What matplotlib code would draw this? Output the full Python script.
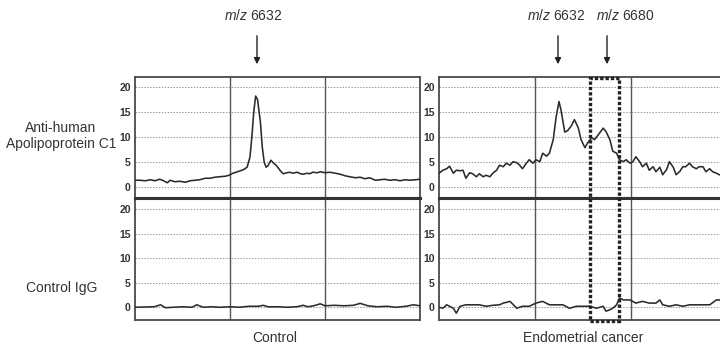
import matplotlib
matplotlib.use("Agg")
import matplotlib.pyplot as plt
from matplotlib.patches import Rectangle

plt.rcParams['font.family'] = ['Liberation Sans', 'DejaVu Sans']
plt.rcParams['mathtext.fontset'] = 'custom'
plt.rcParams['mathtext.it'] = 'Liberation Sans:italic'
plt.rcParams['mathtext.rm'] = 'Liberation Sans'

# ---------------- data ----------------
yticks = [0, 5, 10, 15, 20]
ytick_labels = ["0", "5", "10", "15", "20"]
row_labels = ["Anti-human\nApolipoprotein C1", "Control IgG"]
col_labels = ["Control", "Endometrial cancer"]
peak_labels_left = ["6632"]
peak_labels_right = ["6632", "6680"]

# Control serum, anti-human Apolipoprotein C1
mz_ctrl_apo = [6500, 6505, 6511, 6516, 6521, 6526, 6529, 6534, 6537, 6542, 6547, 6553,
               6558, 6563, 6568, 6574, 6579, 6584, 6589, 6595, 6599, 6603, 6608, 6614,
               6618, 6621, 6623, 6625, 6627, 6629, 6632, 6634, 6636, 6638, 6640, 6643,
               6646, 6649, 6653, 6656, 6660, 6663, 6666, 6671, 6674, 6677, 6681, 6684,
               6687, 6692, 6695, 6700, 6705, 6711, 6716, 6721, 6726, 6732, 6737, 6742,
               6747, 6753, 6758, 6763, 6768, 6774, 6779, 6784, 6789, 6795, 6800]
int_ctrl_apo = [1.4, 1.4, 1.3, 1.5, 1.3, 1.6, 1.4, 0.9, 1.4, 1.1, 1.2, 1.0,
                1.3, 1.4, 1.5, 1.8, 1.8, 2.0, 2.1, 2.2, 2.4, 2.8, 3.1, 3.5,
                4.0, 6.0, 10.0, 15.0, 18.2, 17.5, 13.0, 8.0, 5.0, 4.0, 4.3, 5.4,
                4.8, 4.3, 3.3, 2.7, 2.9, 3.0, 2.8, 3.0, 2.7, 2.6, 2.8, 2.7,
                3.0, 2.9, 3.1, 2.9, 3.0, 2.8, 2.6, 2.3, 2.1, 1.9, 2.0, 1.7,
                1.9, 1.4, 1.5, 1.6, 1.4, 1.5, 1.3, 1.5, 1.4, 1.5, 1.6]

# Endometrial cancer serum, anti-human Apolipoprotein C1
mz_canc_apo = [6500, 6504, 6508, 6511, 6515, 6518, 6522, 6525, 6528, 6532, 6535, 6539,
               6542, 6546, 6549, 6553, 6556, 6560, 6563, 6567, 6570, 6574, 6577, 6581,
               6584, 6587, 6591, 6594, 6598, 6601, 6605, 6608, 6612, 6615, 6619, 6622,
               6625, 6627, 6631, 6634, 6638, 6641, 6645, 6648, 6652, 6655, 6659, 6662,
               6666, 6671, 6674, 6678, 6681, 6685, 6688, 6692, 6695, 6699, 6702, 6705,
               6709, 6712, 6716, 6719, 6723, 6726, 6730, 6733, 6737, 6740, 6744, 6747,
               6751, 6754, 6757, 6761, 6764, 6768, 6771, 6775, 6778, 6782, 6785, 6789,
               6792, 6800]
int_canc_apo = [2.8, 3.4, 3.7, 4.2, 2.8, 3.4, 3.3, 3.4, 1.8, 2.9, 2.7, 2.1,
                2.7, 2.1, 2.4, 2.1, 2.8, 3.4, 4.4, 4.1, 4.8, 4.4, 5.1, 4.9,
                4.4, 3.7, 4.8, 5.5, 4.8, 5.5, 5.1, 6.8, 6.2, 6.8, 9.5, 14.0,
                17.1, 15.5, 11.0, 11.3, 12.3, 13.5, 11.9, 9.5, 7.9, 8.9, 9.9, 9.5,
                10.5, 11.8, 11.1, 9.5, 7.2, 6.8, 5.5, 5.1, 5.5, 4.8, 5.1, 6.1,
                5.1, 4.1, 4.8, 3.4, 4.1, 3.1, 4.0, 2.5, 3.5, 5.1, 4.0, 2.5,
                3.2, 4.1, 4.1, 4.8, 4.1, 3.7, 4.1, 4.1, 3.1, 3.7, 3.1, 2.8,
                2.5, 2.3]

# Control serum, control IgG
mz_ctrl_igg = [6500, 6510, 6520, 6527, 6532, 6540, 6550, 6560, 6565, 6572, 6580, 6590,
               6600, 6610, 6620, 6630, 6635, 6640, 6650, 6660, 6670, 6677, 6682, 6688,
               6695, 6700, 6710, 6720, 6730, 6737, 6745, 6755, 6765, 6775, 6785, 6793,
               6800]
int_ctrl_igg = [0.0, 0.05, 0.1, 0.5, -0.1, 0.0, 0.1, 0.0, 0.5, 0.0, 0.1, 0.0,
                0.1, 0.0, 0.2, 0.2, 0.4, 0.1, 0.1, 0.0, 0.1, 0.4, 0.1, 0.3,
                0.7, 0.3, 0.4, 0.3, 0.4, 0.8, 0.3, 0.1, 0.2, 0.0, 0.2, 0.5,
                0.3]

# Endometrial cancer serum, control IgG
mz_canc_igg = [6500, 6504, 6508, 6511, 6515, 6518, 6522, 6528, 6535, 6542, 6549, 6556,
               6563, 6567, 6574, 6581, 6587, 6594, 6601, 6608, 6615, 6622, 6629, 6636,
               6643, 6650, 6657, 6664, 6671, 6674, 6678, 6681, 6685, 6688, 6692, 6699,
               6705, 6712, 6719, 6726, 6730, 6733, 6740, 6747, 6754, 6761, 6768, 6775,
               6782, 6789, 6792, 6800]
int_canc_igg = [0.0, -0.2, 0.5, 0.2, -0.2, -1.2, 0.2, 0.5, 0.5, 0.5, 0.2, 0.4,
                0.5, 0.85, 1.2, -0.2, 0.2, 0.2, 0.85, 1.2, 0.5, 0.5, 0.5, -0.2,
                0.2, 0.2, 0.2, -0.2, 0.2, -0.8, -0.5, -0.2, 0.5, 1.9, 1.5, 1.5,
                0.85, 1.2, 0.85, 0.85, 1.5, 0.5, 0.2, 0.5, 0.2, 0.5, 0.5, 0.5,
                0.5, 1.5, 1.5, 1.3]

series = [[(mz_ctrl_apo, int_ctrl_apo), (mz_canc_apo, int_canc_apo)],
          [(mz_ctrl_igg, int_ctrl_igg), (mz_canc_igg, int_canc_igg)]]

vgrid = [6600, 6700]
xlim = (6500, 6800)

# ---------------- layout ----------------
W, H = 720, 349
fig = plt.figure(figsize=(W / 100, H / 100), dpi=100)

def fx(px):
    return px / W

def fy(py):
    return 1 - py / H

col_x = [(135, 420), (439, 727)]
row_y = [(77, 198), (198, 320)]
row_ylim = [(-2.14, 22.0), (-2.6, 22.3)]

line_col = '#2b2b2b'
frame_col = '#4a4a4a'

for r in range(2):
    for c in range(2):
        x0, x1 = col_x[c]
        y0, y1 = row_y[r]
        ax = fig.add_axes([fx(x0), fy(y1), fx(x1) - fx(x0), fy(y0) - fy(y1)])
        mz, inten = series[r][c]
        ax.plot(mz, inten, color=line_col, lw=1.15, zorder=3)
        ax.set_xlim(*xlim)
        ax.set_ylim(*row_ylim[r])
        ax.set_yticks(yticks)
        ax.set_yticklabels(ytick_labels)
        ax.set_xticks([])
        ax.tick_params(axis='y', length=0, pad=3, labelsize=7.5, labelcolor='#333333')
        for lbl in ax.get_yticklabels():
            lbl.set_fontweight('bold')
        for yt in yticks:
            ax.axhline(yt, color='#9a9a9a', lw=0.7, ls=(0, (1.5, 1.5)), zorder=1)
        for xv in vgrid:
            ax.axvline(xv, color='#555555', lw=1.0, zorder=2)
        for side, sp in ax.spines.items():
            sp.set_color(frame_col)
            sp.set_linewidth(1.3)
        if r == 0:
            ax.spines['bottom'].set_linewidth(2.2)
            ax.spines['bottom'].set_color('#333333')
        else:
            ax.spines['top'].set_linewidth(2.2)
            ax.spines['top'].set_color('#333333')

# row labels
fig.text(fx(61), fy(136), row_labels[0], ha='center', va='center', fontsize=10,
         color='#333333', linespacing=1.1)
fig.text(fx(62), fy(288), row_labels[1], ha='center', va='center', fontsize=10,
         color='#333333')

# column labels
fig.text(fx(275), fy(338), col_labels[0], ha='center', va='center', fontsize=10, color='#333333')
fig.text(fx(583), fy(338), col_labels[1], ha='center', va='center', fontsize=10, color='#333333')

# peak annotations
peaks = [(253, 257, peak_labels_left[0]),
         (556, 558, peak_labels_right[0]),
         (625, 607, peak_labels_right[1])]
for tx, ax_x, lab in peaks:
    fig.text(fx(tx), fy(15), r"$\it{m/z}$ " + lab, ha='center', va='center',
             fontsize=10, color='#333333')
    fig.add_artist(matplotlib.patches.FancyArrowPatch(
        (fx(ax_x), fy(33)), (fx(ax_x), fy(67)), transform=fig.transFigure,
        arrowstyle='-|>', mutation_scale=9, color='#222222', lw=1.0))

# dotted highlight box
fig.add_artist(Rectangle((fx(590), fy(321)), fx(619) - fx(590), fy(78) - fy(321),
                         transform=fig.transFigure, fill=False, edgecolor='#222222',
                         lw=2.4, ls=(0, (1, 0.6)), zorder=10))

fig.savefig("out.png", dpi=100)
